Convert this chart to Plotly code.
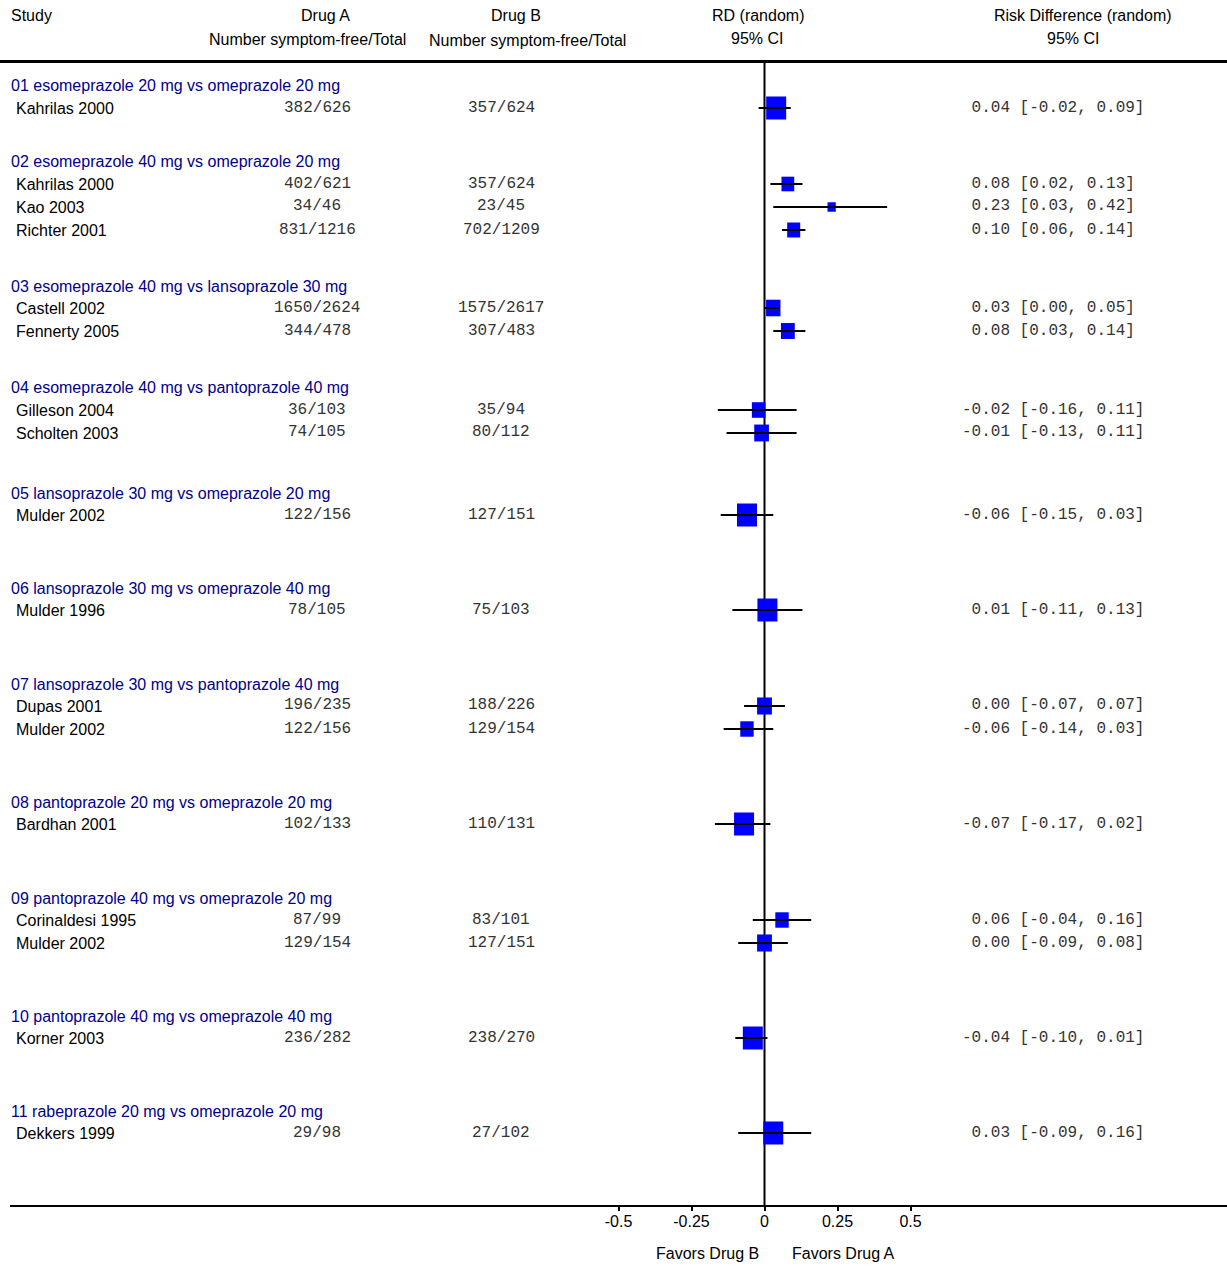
import plotly.graph_objects as go

# ---------------------------------------------------------------- data
groups = [
    "01 esomeprazole 20 mg vs omeprazole 20 mg",
    "02 esomeprazole 40 mg vs omeprazole 20 mg",
    "03 esomeprazole 40 mg vs lansoprazole 30 mg",
    "04 esomeprazole 40 mg vs pantoprazole 40 mg",
    "05 lansoprazole 30 mg vs omeprazole 20 mg",
    "06 lansoprazole 30 mg vs omeprazole 40 mg",
    "07 lansoprazole 30 mg vs pantoprazole 40 mg",
    "08 pantoprazole 20 mg vs omeprazole 20 mg",
    "09 pantoprazole 40 mg vs omeprazole 20 mg",
    "10 pantoprazole 40 mg vs omeprazole 40 mg",
    "11 rabeprazole 20 mg vs omeprazole 20 mg",
]
studies_per_group = [1, 3, 2, 2, 1, 1, 2, 1, 2, 1, 1]

studies = [
    "Kahrilas 2000",
    "Kahrilas 2000", "Kao 2003", "Richter 2001",
    "Castell 2002", "Fennerty 2005",
    "Gilleson 2004", "Scholten 2003",
    "Mulder 2002",
    "Mulder 1996",
    "Dupas 2001", "Mulder 2002",
    "Bardhan 2001",
    "Corinaldesi 1995", "Mulder 2002",
    "Korner 2003",
    "Dekkers 1999",
]
events_a = [382, 402, 34, 831, 1650, 344, 36, 74, 122, 78, 196, 122, 102, 87, 129, 236, 29]
total_a = [626, 621, 46, 1216, 2624, 478, 103, 105, 156, 105, 235, 156, 133, 99, 154, 282, 98]
events_b = [357, 357, 23, 702, 1575, 307, 35, 80, 127, 75, 188, 129, 110, 83, 127, 238, 27]
total_b = [624, 624, 45, 1209, 2617, 483, 94, 112, 151, 103, 226, 154, 131, 101, 151, 270, 102]

rd = [0.04, 0.08, 0.23, 0.10, 0.03, 0.08, -0.02, -0.01, -0.06, 0.01,
      0.00, -0.06, -0.07, 0.06, 0.00, -0.04, 0.03]
ci_low = [-0.02, 0.02, 0.03, 0.06, 0.00, 0.03, -0.16, -0.13, -0.15, -0.11,
          -0.07, -0.14, -0.17, -0.04, -0.09, -0.10, -0.09]
ci_high = [0.09, 0.13, 0.42, 0.14, 0.05, 0.14, 0.11, 0.11, 0.03, 0.13,
           0.07, 0.03, 0.02, 0.16, 0.08, 0.01, 0.16]
# study weight within its subgroup (%)
weight = [100, 40.5, 17, 42.5, 52, 48, 46, 54, 100, 100, 55, 45, 100, 45, 55, 100, 100]

tick_values = [-0.5, -0.25, 0, 0.25, 0.5]
tick_labels = ["-0.5", "-0.25", "0", "0.25", "0.5"]

# ---------------------------------------------------------------- layout
W, H = 1227, 1266
PLOT_L, PLOT_R = 10, W
PLOT_T, PLOT_B = 0, 1205
ZERO_PX = 764.5
PX_PER_UNIT = 292.0

HEADER_Y = [86, 162, 286, 388, 493, 588, 684, 802, 898, 1016, 1111]
FIRST_ROW_OFFSET = 22
ROW_STEP = 23

SANS = "Liberation Sans, Arial, sans-serif"
MONO = "Liberation Mono, Courier New, monospace"
GROUP_COLOR = "#00008B"
BOX_COLOR = "#0000FF"
BOX_FULL = 20.0  # box width in px for a 100% weight study


def paper_x(px):
    return (px - PLOT_L) / (PLOT_R - PLOT_L)


def paper_y(py):
    return (PLOT_B - py) / (PLOT_B - PLOT_T)


annotations = []


def text(s, px, py, anchor="left", font=SANS, size=16, color="#000000"):
    annotations.append(dict(
        text=s, x=paper_x(px), y=paper_y(py), xref="paper", yref="paper",
        xanchor=anchor, yanchor="middle", showarrow=False,
        borderpad=0, borderwidth=0,
        font=dict(family=font, size=size, color=color),
    ))


# column headers
text("Study", 11, 16)
text("Drug A", 325, 16, "center")
text("Number symptom-free/Total", 307.5, 40, "center")
text("Drug B", 516, 16, "center")
text("Number symptom-free/Total", 527.5, 41, "center")
text("RD (random)", 757.5, 16, "center")
text("95% CI", 757, 39, "center")
text("Risk Difference (random)", 1083, 16, "center")
text("95% CI", 1073, 39, "center")

# rows
row_y = []
i = 0
for g, name in enumerate(groups):
    text(name, 11, HEADER_Y[g], color=GROUP_COLOR)
    for k in range(studies_per_group[g]):
        y = HEADER_Y[g] + FIRST_ROW_OFFSET + k * ROW_STEP
        row_y.append(y)
        text(studies[i], 16, y + 0.5)
        text(f"{events_a[i]}/{total_a[i]}", 317, y - 0.5, "center", MONO, 16, "#333333")
        text(f"{events_b[i]}/{total_b[i]}", 501, y - 0.5, "center", MONO, 16, "#333333")
        est = f"{rd[i]:5.2f}".replace(" ", "\u00a0")
        text(f"{est} [{ci_low[i]:.2f}, {ci_high[i]:.2f}]", 962, y - 0.5, "left", MONO, 16, "#333333")
        i += 1

text("Favors Drug B", 707, 1253, "center")
text("Favors Drug A", 843, 1253, "center")

shapes = []
# rule under the column headers
shapes.append(dict(type="line", xref="paper", yref="paper",
                   x0=paper_x(0), x1=paper_x(W), y0=paper_y(61.5), y1=paper_y(61.5),
                   line=dict(color="#000000", width=3)))
# line of no effect
shapes.append(dict(type="line", xref="x", yref="paper", x0=0, x1=0,
                   y0=0, y1=paper_y(62), layer="below",
                   line=dict(color="#000000", width=2)))
# weighted study boxes
for est, y, w in zip(rd, row_y, weight):
    side = BOX_FULL * (w / 100.0) ** 0.5
    shapes.append(dict(type="rect", xref="x", yref="y",
                       xsizemode="pixel", ysizemode="pixel",
                       xanchor=est, yanchor=y,
                       x0=-side / 2, x1=side / 2,
                       y0=-side * 1.15 / 2, y1=side * 1.15 / 2,
                       fillcolor=BOX_COLOR, line=dict(width=0), layer="below"))

# confidence interval whiskers
ci_x, ci_y = [], []
for lo, hi, y in zip(ci_low, ci_high, row_y):
    ci_x += [lo, hi, None]
    ci_y += [y, y, None]

fig = go.Figure()
fig.add_trace(go.Scatter(x=ci_x, y=ci_y, mode="lines",
                         line=dict(color="#000000", width=2),
                         hoverinfo="skip", showlegend=False))

x_min = (PLOT_L - ZERO_PX) / PX_PER_UNIT
x_max = (PLOT_R - ZERO_PX) / PX_PER_UNIT

fig.update_layout(
    width=W, height=H,
    margin=dict(l=PLOT_L, r=W - PLOT_R, t=PLOT_T, b=H - PLOT_B),
    paper_bgcolor="white", plot_bgcolor="white",
    showlegend=False,
    annotations=annotations,
    shapes=shapes,
    xaxis=dict(range=[x_min, x_max], showgrid=False, zeroline=False,
               showline=True, linecolor="#000000", linewidth=2,
               ticks="outside", ticklen=4, tickwidth=1.5, tickcolor="#000000",
               ticklabelstandoff=-3,
               tickvals=tick_values, ticktext=tick_labels,
               tickfont=dict(family=SANS, size=16, color="#000000"),
               fixedrange=True),
    yaxis=dict(range=[PLOT_B, PLOT_T], visible=False, fixedrange=True),
)

fig.write_html("out.html")
